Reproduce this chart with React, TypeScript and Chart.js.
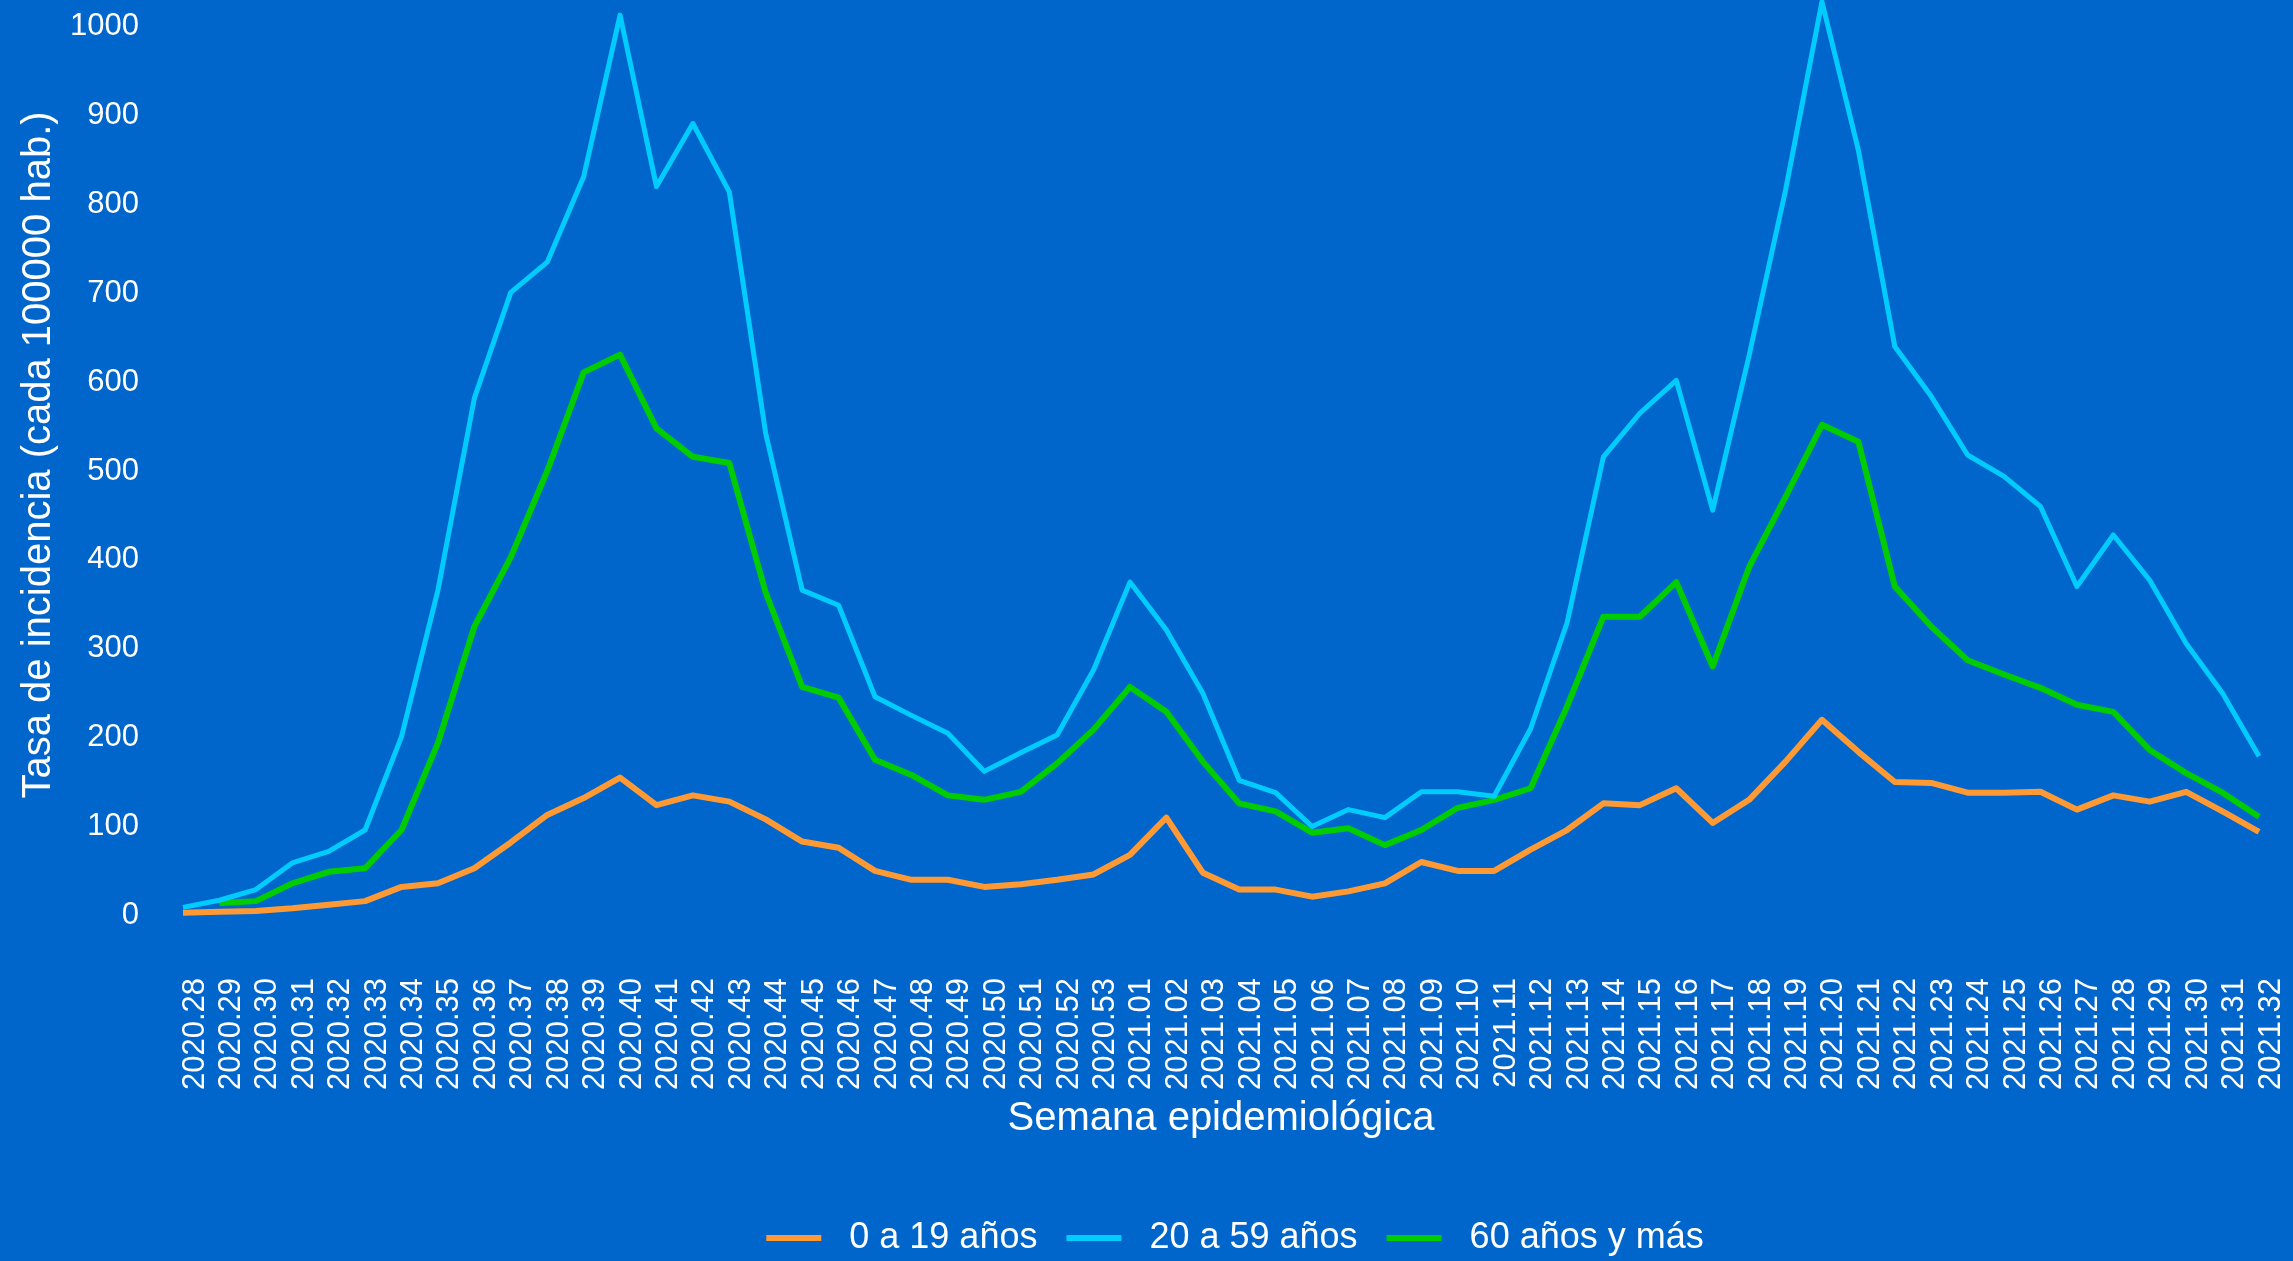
import React, { useEffect, useRef } from 'react';
import { Chart, registerables } from 'chart.js';

Chart.register(...registerables);

const WEEKS = [
  '2020.28', '2020.29', '2020.30', '2020.31', '2020.32', '2020.33', '2020.34', '2020.35', '2020.36', '2020.37',
  '2020.38', '2020.39', '2020.40', '2020.41', '2020.42', '2020.43', '2020.44', '2020.45', '2020.46', '2020.47',
  '2020.48', '2020.49', '2020.50', '2020.51', '2020.52', '2020.53',
  '2021.01', '2021.02', '2021.03', '2021.04', '2021.05', '2021.06', '2021.07', '2021.08', '2021.09', '2021.10',
  '2021.11', '2021.12', '2021.13', '2021.14', '2021.15', '2021.16', '2021.17', '2021.18', '2021.19', '2021.20',
  '2021.21', '2021.22', '2021.23', '2021.24', '2021.25', '2021.26', '2021.27', '2021.28', '2021.29', '2021.30',
  '2021.31', '2021.32',
];

const AGE_0_19 = [
  3, 4, 5, 8, 12, 16, 32, 36, 53, 82,
  113, 132, 155, 124, 135, 128, 108, 83, 76, 50,
  40, 40, 32, 35, 40, 46,
  68, 110, 48, 29, 29, 21, 27, 36, 60, 50,
  50, 74, 96, 126, 124, 143, 104, 130, 173, 220,
  184, 150, 149, 138, 138, 139, 119, 135, 128, 139,
  117, 94,
];

const AGE_20_59 = [
  9, 17, 29, 59, 72, 96, 201, 366, 582, 701,
  735, 831, 1013, 820, 891, 814, 542, 366, 349, 246,
  225, 205, 162, 183, 203, 276,
  375, 321, 250, 152, 138, 100, 119, 110, 139, 139,
  134, 210, 329, 516, 565, 602, 456, 630, 816, 1028,
  861, 640, 584, 518, 494, 460, 370, 428, 377, 306,
  250, 179,
];

const AGE_60_PLUS = [
  null, 14, 16, 36, 49, 53, 96, 194, 325, 403,
  500, 611, 631, 548, 516, 509, 363, 257, 245, 175,
  158, 135, 130, 139, 171, 209,
  257, 229, 173, 126, 117, 93, 98, 79, 96, 121,
  130, 143, 235, 336, 336, 375, 280, 392, 471, 552,
  533, 370, 325, 287, 271, 256, 237, 229, 186, 160,
  138, 111,
];

const SERIES_LABELS = ['0 a 19 años', '20 a 59 años', '60 años y más'];
const SERIES_COLORS = ['#FF9933', '#00CCFF', '#00CC00'];
const SERIES_WIDTHS = [6, 5, 6];
const Y_TICKS = [0, 100, 200, 300, 400, 500, 600, 700, 800, 900, 1000];
const Y_TITLE = 'Tasa de incidencia (cada 100000 hab.)';
const X_TITLE = 'Semana epidemiológica';

const FONT = "'Liberation Sans', Arial, Helvetica, sans-serif";
const BG = '#0066CC';
const PAGE_W = 2293;
const PAGE_H = 1261;
const TOP_CROP = 48;

const legendPlugin = {
  id: 'bottomLegend',
  afterDraw(chart: any) {
    const ctx = chart.ctx;
    ctx.save();
    ctx.font = `36px ${FONT}`;
    const keyW = 55;
    const keyH = 6;
    const gapKeyText = 28;
    const gapItems = 29;
    const widths = SERIES_LABELS.map((t) => ctx.measureText(t).width);
    const total =
      widths.reduce((a, b) => a + b, 0) +
      SERIES_LABELS.length * (keyW + gapKeyText) +
      (SERIES_LABELS.length - 1) * gapItems;
    const area = chart.chartArea;
    const center = (area.left + area.right) / 2 + 14;
    const y = chart.height - 23;
    let x = center - total / 2;
    ctx.textBaseline = 'middle';
    ctx.textAlign = 'left';
    SERIES_LABELS.forEach((label, i) => {
      ctx.fillStyle = SERIES_COLORS[i];
      ctx.fillRect(x, y - keyH / 2, keyW, keyH);
      x += keyW + gapKeyText;
      ctx.fillStyle = '#FFFFFF';
      ctx.fillText(label, x, y);
      x += widths[i] + gapItems;
    });
    ctx.restore();
  },
};

export default function App() {
  const canvasRef = useRef<HTMLCanvasElement | null>(null);

  useEffect(() => {
    if (!canvasRef.current) return;
    const seriesData = [AGE_0_19, AGE_20_59, AGE_60_PLUS];
    const chart = new Chart(canvasRef.current, {
      type: 'line',
      data: {
        labels: WEEKS,
        datasets: SERIES_LABELS.map((label, i) => ({
          label,
          data: seriesData[i],
          borderColor: SERIES_COLORS[i],
          backgroundColor: SERIES_COLORS[i],
          borderWidth: SERIES_WIDTHS[i],
          pointRadius: 0,
          pointHoverRadius: 0,
          tension: 0,
          fill: false,
          spanGaps: false,
          borderJoinStyle: 'round' as const,
        })),
      },
      options: {
        responsive: false,
        animation: false,
        devicePixelRatio: 1,
        layout: {
          autoPadding: false,
          padding: { top: 0, left: 0, right: 34, bottom: 70 },
        },
        plugins: {
          legend: { display: false },
          tooltip: { enabled: false },
        },
        scales: {
          x: {
            type: 'category',
            offset: false,
            afterFit: (s: any) => {
              s.height = 233;
              s.paddingLeft = 0;
              s.paddingRight = 0;
              s.paddingTop = 0;
              s.paddingBottom = 0;
            },
            grid: { display: false, drawTicks: false },
            border: { display: false },
            ticks: {
              color: '#FFFFFF',
              font: { size: 31, family: FONT },
              minRotation: 90,
              maxRotation: 90,
              autoSkip: false,
              padding: 20,
              labelOffset: 12,
            },
            title: {
              display: true,
              text: X_TITLE,
              color: '#FFFFFF',
              font: { size: 40, family: FONT },
              padding: { top: 0, bottom: 48 },
            },
          },
          y: {
            type: 'linear',
            min: -48,
            max: 1084,
            afterBuildTicks: (s: any) => {
              s.ticks = Y_TICKS.map((v) => ({ value: v }));
            },
            afterFit: (s: any) => {
              s.width = 183;
              s.paddingLeft = 0;
              s.paddingRight = 0;
              s.paddingTop = 0;
              s.paddingBottom = 0;
            },
            grid: { display: false, drawTicks: false },
            border: { display: false },
            ticks: {
              color: '#FFFFFF',
              font: { size: 31, family: FONT },
              padding: 44,
              callback: (v: any) => String(v),
            },
            title: {
              display: true,
              text: Y_TITLE,
              color: '#FFFFFF',
              font: { size: 40, family: FONT },
              padding: { top: 15, bottom: 0 },
            },
          },
        },
      },
      plugins: [legendPlugin],
    });
    return () => chart.destroy();
  }, []);

  return (
    <div
      style={{
        position: 'fixed',
        left: 0,
        top: 0,
        width: PAGE_W,
        height: PAGE_H,
        background: BG,
        overflow: 'hidden',
      }}
    >
      <canvas
        ref={canvasRef}
        width={PAGE_W}
        height={PAGE_H + TOP_CROP}
        style={{ display: 'block', position: 'absolute', left: 0, top: -TOP_CROP }}
      />
    </div>
  );
}
